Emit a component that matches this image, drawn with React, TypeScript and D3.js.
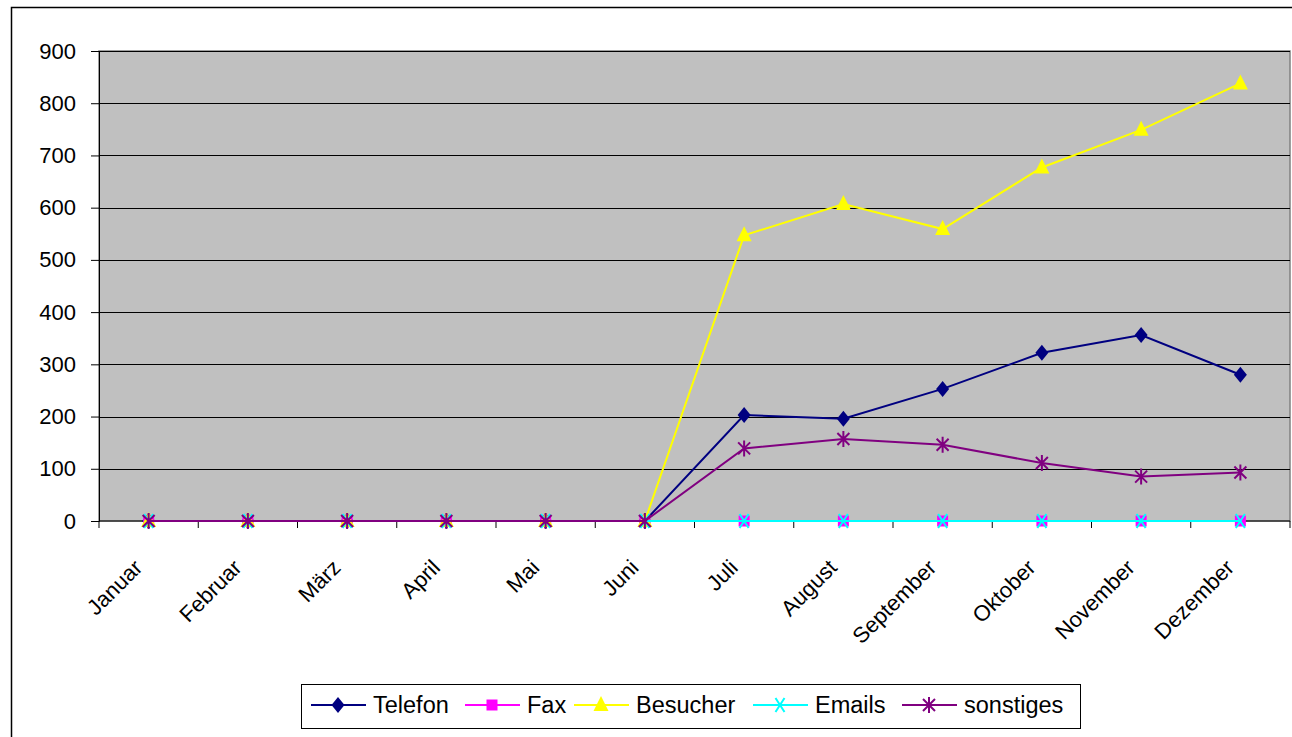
import React, { useEffect, useRef } from "react";
import * as d3 from "d3";

const months = ["Januar", "Februar", "März", "April", "Mai", "Juni", "Juli", "August", "September", "Oktober", "November", "Dezember"];
const telefon = [0, 0, 0, 0, 0, 0, 203, 196, 253, 322, 356, 280];
const fax = [0, 0, 0, 0, 0, 0, 0, 0, 0, 0, 0, 0];
const besucher = [0, 0, 0, 0, 0, 0, 547, 607, 559, 677, 749, 838];
const emails = [0, 0, 0, 0, 0, 0, 0, 0, 0, 0, 0, 0];
const sonstiges = [0, 0, 0, 0, 0, 0, 139, 157, 146, 111, 85, 93];
const yTicks = [0, 100, 200, 300, 400, 500, 600, 700, 800, 900];

const seriesList = [
  { name: "Telefon", values: telefon, color: "#000080", marker: "diamond" },
  { name: "Fax", values: fax, color: "#FF00FF", marker: "square" },
  { name: "Besucher", values: besucher, color: "#FFFF00", marker: "triangle" },
  { name: "Emails", values: emails, color: "#00FFFF", marker: "x" },
  { name: "sonstiges", values: sonstiges, color: "#800080", marker: "star" },
];

function drawMarker(g: any, kind: string, color: string) {
  if (kind === "diamond") {
    g.append("path").attr("d", "M0,-8L6.5,0L0,8L-6.5,0Z").attr("fill", color);
  } else if (kind === "square") {
    g.append("rect").attr("x", -5.5).attr("y", -5.5).attr("width", 11).attr("height", 11).attr("fill", color);
  } else if (kind === "triangle") {
    g.append("path").attr("d", "M0,-9L7.5,6L-7.5,6Z").attr("fill", color);
  } else if (kind === "x") {
    g.append("path").attr("d", "M-4.5,-7L4.5,7M4.5,-7L-4.5,7").attr("stroke", color).attr("stroke-width", 2).attr("fill", "none");
  } else {
    g.append("path").attr("d", "M0,-8V8M-6,-6L6,6M6,-6L-6,6").attr("stroke", color).attr("stroke-width", 2).attr("fill", "none");
  }
}

export default function App() {
  const ref = useRef<SVGSVGElement>(null);

  useEffect(() => {
    const svg = d3.select(ref.current);
    svg.selectAll("*").remove();
    const width = 1292, height = 737;
    const left = 99, right = 1290, top = 51, bottom = 521;
    const font = "'Liberation Sans', Arial, sans-serif";

    // chart frame
    svg.append("rect").attr("x", 11.5).attr("y", 7.5).attr("width", width + 10).attr("height", height + 10)
      .attr("fill", "white").attr("stroke", "black").attr("stroke-width", 1.5);

    const x = d3.scaleBand().domain(months).range([left, right]);
    const y = d3.scaleLinear().domain([0, 900]).range([bottom, top]);

    svg.append("rect").attr("x", left).attr("y", top).attr("width", right - left).attr("height", bottom - top)
      .attr("fill", "#C0C0C0").attr("stroke", "#808080").attr("stroke-width", 1.5);

    svg.append("g").selectAll("line").data(yTicks.slice(1)).join("line")
      .attr("x1", left).attr("x2", right).attr("y1", d => Math.round(y(d)) + 0.5).attr("y2", d => Math.round(y(d)) + 0.5)
      .attr("stroke", "black").attr("stroke-width", 1);

    // y axis
    const yAxis = svg.append("g").attr("transform", `translate(${left},0)`)
      .call(d3.axisLeft(y).tickValues(yTicks).tickSize(8).tickPadding(23 - 8));
    yAxis.select(".domain").attr("stroke", "black");
    yAxis.selectAll(".tick line").attr("stroke", "black");
    yAxis.selectAll("text").attr("font-family", font).attr("font-size", 22).attr("fill", "black");

    // x axis
    const xAxis = svg.append("g").attr("transform", `translate(0,${bottom})`);
    xAxis.append("line").attr("x1", left).attr("x2", right).attr("stroke", "black");
    xAxis.selectAll("line.tick").data(d3.range(months.length + 1)).join("line").attr("class", "tick")
      .attr("x1", i => left + i * x.step()).attr("x2", i => left + i * x.step())
      .attr("y1", 0).attr("y2", 7).attr("stroke", "black");
    xAxis.selectAll("text").data(months).join("text")
      .attr("transform", d => `translate(${x(d)! + x.bandwidth() / 2 - 5},${48}) rotate(-45)`)
      .attr("text-anchor", "end").attr("font-family", font).attr("font-size", 22).attr("fill", "black")
      .text(d => d);

    const line = d3.line<number>().x((_, i) => x(months[i])! + x.bandwidth() / 2).y(d => y(d));

    seriesList.forEach(s => {
      svg.append("path").datum(s.values).attr("d", line).attr("fill", "none")
        .attr("stroke", s.color).attr("stroke-width", 2);
      s.values.forEach((v, i) => {
        const g = svg.append("g").attr("transform", `translate(${x(months[i])! + x.bandwidth() / 2},${y(v)})`);
        drawMarker(g, s.marker, s.color);
      });
    });

    // legend
    const legend = svg.append("g");
    legend.append("rect").attr("x", 301.5).attr("y", 684.5).attr("width", 779).attr("height", 44)
      .attr("fill", "white").attr("stroke", "black").attr("stroke-width", 1);
    const legendX = [311, 465, 574, 753, 902];
    seriesList.forEach((s, i) => {
      const lx = legendX[i];
      const ly = 705;
      legend.append("line").attr("x1", lx).attr("x2", lx + 55).attr("y1", ly).attr("y2", ly)
        .attr("stroke", s.color).attr("stroke-width", 2);
      drawMarker(legend.append("g").attr("transform", `translate(${lx + 27},${ly})`), s.marker, s.color);
      legend.append("text").attr("x", lx + 62).attr("y", ly).attr("dy", "0.35em")
        .attr("font-family", font).attr("font-size", 23.5).attr("fill", "black").text(s.name);
    });
  }, []);

  return (
    <div style={{ position: "absolute", left: 0, top: 0 }}>
      <svg ref={ref} width={1292} height={737} style={{ display: "block" }} />
    </div>
  );
}
